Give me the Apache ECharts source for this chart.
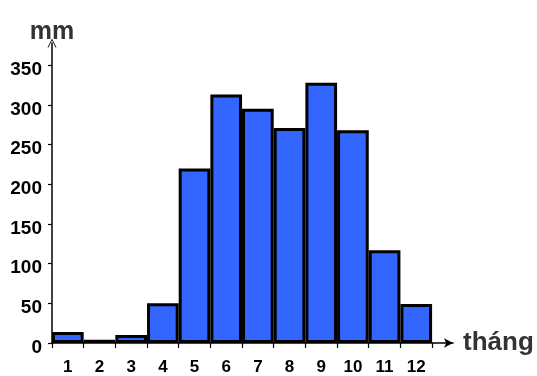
<!DOCTYPE html>
<html>
<head>
<meta charset="utf-8">
<script src="https://cdn.jsdelivr.net/npm/echarts@6/dist/echarts.min.js"></script>
<style>html,body{margin:0;padding:0;background:#fff}#c{width:537px;height:376px}</style>
</head>
<body>
<div id="c"></div>
<script>
var months = [1, 2, 3, 4, 5, 6, 7, 8, 9, 10, 11, 12];
var rainfall = [14, 4, 10, 50, 220, 313, 295, 271, 328, 268, 117, 49];
var yTicks = [0, 50, 100, 150, 200, 250, 300, 350];
var xTickEdges = [0.5, 1.5, 2.5, 3.5, 4.5, 5.5, 6.5, 7.5, 8.5, 9.5, 10.5, 11.5, 12.5];
var yName = 'mm';
var xName = 'tháng';

var arrowPath = 'path://M0,10 L5,0 L10,10 L9,10 L5,2 L1,10 Z';

var chart = echarts.init(document.getElementById('c'));
chart.setOption({
  animation: false,
  grid: {left: 52, right: 84, top: 43, bottom: 32, containLabel: false},
  xAxis: {
    type: 'value', min: 0.5, max: 13.16,
    name: xName, nameLocation: 'end', nameGap: 10,
    nameTextStyle: {fontFamily: 'Liberation Sans', fontWeight: 'bold', fontSize: 26, color: '#333', verticalAlign: 'middle'},
    axisLine: {show: true, lineStyle: {color: '#000', width: 1.5}, symbol: ['none', 'arrow'], symbolSize: [7, 9]},
    axisTick: {show: true, inside: false, length: 5, lineStyle: {color: '#000', width: 1.2}, customValues: xTickEdges},
    axisLabel: {customValues: months, margin: 16, fontFamily: 'Liberation Sans', fontWeight: 'bold', fontSize: 17, color: '#000'},
    splitLine: {show: false}
  },
  yAxis: {
    type: 'value', min: 0, max: 378,
    name: yName, nameLocation: 'end', nameGap: -2,
    nameTextStyle: {fontFamily: 'Liberation Sans', fontWeight: 'bold', fontSize: 25, color: '#333', align: 'center'},
    axisLine: {show: true, lineStyle: {color: '#000', width: 1.5}, symbol: ['none', arrowPath], symbolSize: [9, 10]},
    axisTick: {show: true, length: 4, lineStyle: {color: '#000', width: 1.2}, customValues: yTicks},
    axisLabel: {customValues: yTicks, margin: 10, verticalAlign: 'top', lineHeight: 9, fontFamily: 'Liberation Sans', fontWeight: 'bold', fontSize: 19, color: '#000'},
    splitLine: {show: false}
  },
  series: [{
    type: 'bar',
    data: months.map(function (m, i) { return [m, rainfall[i]]; }),
    barWidth: '100%',
    barCategoryGap: '0%',
    itemStyle: {color: '#3366FF', borderColor: '#000', borderWidth: 3},
    z: 1
  }]
});
</script>
</body>
</html>
